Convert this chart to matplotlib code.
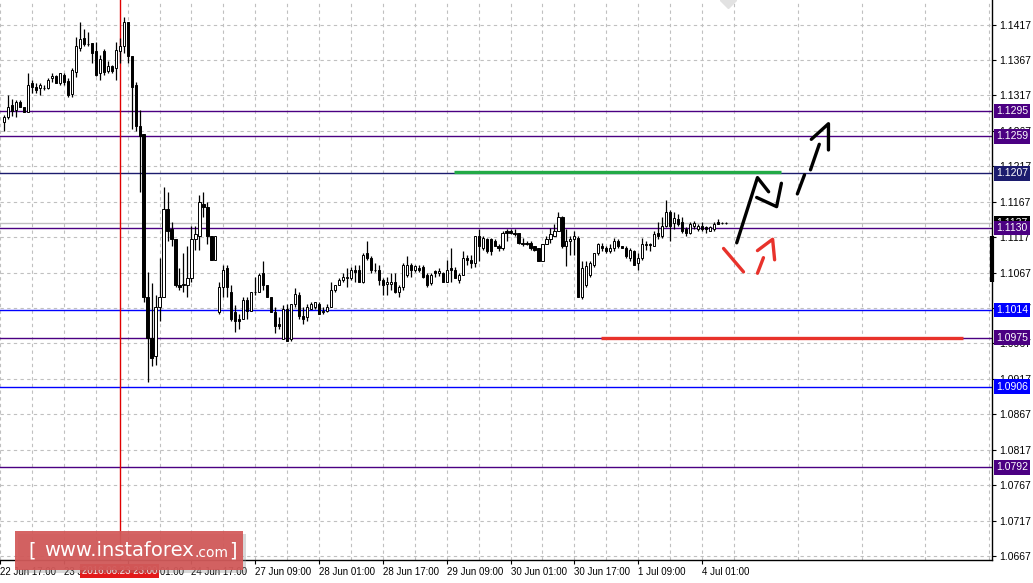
import matplotlib
matplotlib.use('Agg')
import matplotlib.pyplot as plt
import matplotlib.transforms as mtransforms
from matplotlib.patches import Rectangle

plt.rcParams['font.family'] = ['Liberation Sans', 'DejaVu Sans']

# EURUSD H1 candles
opens = [1.1280, 1.1286, 1.1303, 1.1297, 1.1308, 1.1300, 1.1294, 1.1334, 1.1329, 1.1327,
         1.1327, 1.1328, 1.1341, 1.1345, 1.1335, 1.1346, 1.1338, 1.1319, 1.1350, 1.1384,
         1.1398, 1.1390, 1.1391, 1.1380, 1.1348, 1.1380, 1.1352, 1.1358, 1.1355, 1.1379,
         1.1386, 1.1420, 1.1373, 1.1332, 1.1274, 1.1262, 1.1033, 1.0975, 1.0949, 1.1019,
         1.1033, 1.1156, 1.1128, 1.1115, 1.1050, 1.1050, 1.1050, 1.1060, 1.1115, 1.1119,
         1.1164, 1.1160, 1.1118, 1.1085, 1.1011, 1.1047, 1.1073, 1.1039, 1.1011, 1.1001,
         1.1002, 1.1028, 1.1013, 1.1039, 1.1040, 1.1066, 1.1049, 1.1033, 1.1012, 1.0994,
         1.0973, 1.1015, 1.0973, 1.1023, 1.1036, 1.1005, 1.1004, 1.1016, 1.1019, 1.1022,
         1.1011, 1.1013, 1.1019, 1.1043, 1.1050, 1.1056, 1.1060, 1.1060, 1.1071, 1.1070,
         1.1053, 1.1094, 1.1088, 1.1071, 1.1071, 1.1057, 1.1051, 1.1051, 1.1053, 1.1039,
         1.1046, 1.1063, 1.1078, 1.1071, 1.1074, 1.1075, 1.1064, 1.1052, 1.1069, 1.1066,
         1.1067, 1.1054, 1.1073, 1.1071, 1.1057, 1.1064, 1.1088, 1.1085, 1.1081, 1.1118,
         1.1102, 1.1115, 1.1114, 1.1111, 1.1105, 1.1101, 1.1126, 1.1125, 1.1123, 1.1123,
         1.1109, 1.1109, 1.1109, 1.1104, 1.1101, 1.1084, 1.1107, 1.1114, 1.1118, 1.1126,
         1.1146, 1.1104, 1.1111, 1.1115, 1.1116, 1.1032, 1.1050, 1.1064, 1.1077, 1.1095,
         1.1105, 1.1101, 1.1097, 1.1101, 1.1112, 1.1104, 1.1102, 1.1087, 1.1098, 1.1081,
         1.1088, 1.1106, 1.1107, 1.1104, 1.1123, 1.1119, 1.1132, 1.1152, 1.1137, 1.1143,
         1.1138, 1.1128, 1.1123, 1.1132, 1.1128, 1.1132, 1.1131, 1.1126, 1.1128, 1.1138,
         1.1137, 1.1137]
highs = [1.1290, 1.1318, 1.1312, 1.1311, 1.1311, 1.1301, 1.1348, 1.1339, 1.1335, 1.1335,
         1.1332, 1.1341, 1.1349, 1.1346, 1.1348, 1.1348, 1.1341, 1.1355, 1.1400, 1.1420,
         1.1410, 1.1407, 1.1391, 1.1393, 1.1374, 1.1383, 1.1365, 1.1360, 1.1393, 1.1398,
         1.1427, 1.1420, 1.1373, 1.1336, 1.1297, 1.1262, 1.1068, 1.1052, 1.1035, 1.1088,
         1.1188, 1.1180, 1.1139, 1.1115, 1.1074, 1.1095, 1.1105, 1.1133, 1.1133, 1.1176,
         1.1180, 1.1167, 1.1118, 1.1118, 1.1053, 1.1078, 1.1078, 1.1050, 1.1021, 1.1008,
         1.1032, 1.1033, 1.1039, 1.1061, 1.1067, 1.1084, 1.1049, 1.1033, 1.1019, 1.1004,
         1.1021, 1.1022, 1.1023, 1.1045, 1.1039, 1.1019, 1.1022, 1.1026, 1.1026, 1.1026,
         1.1018, 1.1022, 1.1053, 1.1050, 1.1060, 1.1067, 1.1074, 1.1075, 1.1078, 1.1078,
         1.1094, 1.1112, 1.1090, 1.1081, 1.1078, 1.1060, 1.1061, 1.1067, 1.1067, 1.1049,
         1.1081, 1.1090, 1.1081, 1.1078, 1.1077, 1.1077, 1.1067, 1.1066, 1.1071, 1.1073,
         1.1068, 1.1085, 1.1102, 1.1075, 1.1067, 1.1097, 1.1092, 1.1092, 1.1118, 1.1129,
         1.1118, 1.1116, 1.1116, 1.1114, 1.1107, 1.1125, 1.1128, 1.1128, 1.1128, 1.1123,
         1.1116, 1.1111, 1.1111, 1.1105, 1.1102, 1.1107, 1.1118, 1.1130, 1.1135, 1.1152,
         1.1147, 1.1128, 1.1118, 1.1125, 1.1118, 1.1083, 1.1083, 1.1083, 1.1095, 1.1109,
         1.1109, 1.1104, 1.1107, 1.1116, 1.1114, 1.1105, 1.1104, 1.1101, 1.1099, 1.1095,
         1.1116, 1.1111, 1.1109, 1.1125, 1.1138, 1.1145, 1.1169, 1.1155, 1.1152, 1.1149,
         1.1145, 1.1131, 1.1138, 1.1140, 1.1135, 1.1138, 1.1132, 1.1132, 1.1138, 1.1142,
         1.1138, 1.1138]
lows = [1.1267, 1.1284, 1.1288, 1.1287, 1.1300, 1.1293, 1.1294, 1.1321, 1.1321, 1.1318,
        1.1324, 1.1326, 1.1336, 1.1335, 1.1332, 1.1332, 1.1315, 1.1315, 1.1343, 1.1380,
        1.1386, 1.1386, 1.1362, 1.1345, 1.1339, 1.1346, 1.1349, 1.1349, 1.1339, 1.1363,
        1.1377, 1.1363, 1.1269, 1.1267, 1.1180, 1.1025, 1.0912, 1.0935, 1.0936, 1.0999,
        1.1032, 1.1112, 1.1104, 1.1047, 1.1042, 1.1039, 1.1033, 1.1054, 1.1099, 1.1099,
        1.1146, 1.1107, 1.1085, 1.1085, 1.1008, 1.1033, 1.1033, 1.0998, 1.0983, 1.0988,
        1.1001, 1.1002, 1.1013, 1.1036, 1.1040, 1.1043, 1.1032, 1.1011, 1.0982, 1.0987,
        1.0973, 1.0970, 1.0971, 1.1019, 1.1002, 1.0994, 1.0998, 1.1015, 1.1015, 1.1008,
        1.1009, 1.1012, 1.1018, 1.1040, 1.1049, 1.1054, 1.1047, 1.1057, 1.1053, 1.1053,
        1.1052, 1.1085, 1.1067, 1.1068, 1.1050, 1.1036, 1.1035, 1.1043, 1.1038, 1.1033,
        1.1043, 1.1061, 1.1061, 1.1068, 1.1068, 1.1060, 1.1047, 1.1049, 1.1061, 1.1062,
        1.1053, 1.1053, 1.1053, 1.1059, 1.1052, 1.1063, 1.1078, 1.1074, 1.1075, 1.1083,
        1.1099, 1.1095, 1.1092, 1.1104, 1.1098, 1.1099, 1.1111, 1.1121, 1.1118, 1.1107,
        1.1105, 1.1106, 1.1099, 1.1098, 1.1084, 1.1083, 1.1107, 1.1109, 1.1118, 1.1125,
        1.1102, 1.1076, 1.1092, 1.1092, 1.1032, 1.1030, 1.1047, 1.1061, 1.1075, 1.1092,
        1.1097, 1.1095, 1.1095, 1.1098, 1.1102, 1.1101, 1.1088, 1.1084, 1.1077, 1.1070,
        1.1085, 1.1099, 1.1098, 1.1104, 1.1115, 1.1116, 1.1131, 1.1111, 1.1129, 1.1133,
        1.1123, 1.1118, 1.1121, 1.1129, 1.1125, 1.1125, 1.1123, 1.1125, 1.1126, 1.1135,
        1.1136, 1.1136]
closes = [1.1286, 1.1301, 1.1295, 1.1307, 1.1301, 1.1294, 1.1332, 1.1329, 1.1324, 1.1331,
          1.1328, 1.1339, 1.1345, 1.1335, 1.1348, 1.1336, 1.1317, 1.1353, 1.1386, 1.1397,
          1.1389, 1.1390, 1.1377, 1.1346, 1.1369, 1.1350, 1.1358, 1.1352, 1.1381, 1.1386,
          1.1421, 1.1373, 1.1329, 1.1274, 1.1260, 1.1033, 1.0974, 1.0947, 1.1019, 1.1033,
          1.1156, 1.1125, 1.1115, 1.1050, 1.1047, 1.1051, 1.1059, 1.1115, 1.1122, 1.1166,
          1.1160, 1.1119, 1.1085, 1.1118, 1.1046, 1.1071, 1.1047, 1.1002, 1.0998, 1.0998,
          1.1028, 1.1013, 1.1039, 1.1040, 1.1064, 1.1049, 1.1033, 1.1012, 1.0991, 1.0991,
          1.1015, 1.0971, 1.1022, 1.1037, 1.1005, 1.1001, 1.1018, 1.1023, 1.1025, 1.1009,
          1.1013, 1.1019, 1.1043, 1.1050, 1.1057, 1.1061, 1.1061, 1.1071, 1.1068, 1.1053,
          1.1092, 1.1088, 1.1071, 1.1070, 1.1057, 1.1050, 1.1053, 1.1053, 1.1039, 1.1047,
          1.1077, 1.1077, 1.1071, 1.1076, 1.1071, 1.1061, 1.1050, 1.1063, 1.1066, 1.1069,
          1.1054, 1.1071, 1.1070, 1.1060, 1.1064, 1.1088, 1.1085, 1.1080, 1.1118, 1.1104,
          1.1116, 1.1097, 1.1097, 1.1105, 1.1101, 1.1123, 1.1123, 1.1123, 1.1122, 1.1109,
          1.1108, 1.1108, 1.1102, 1.1099, 1.1084, 1.1107, 1.1115, 1.1121, 1.1126, 1.1145,
          1.1104, 1.1111, 1.1115, 1.1118, 1.1033, 1.1073, 1.1076, 1.1081, 1.1094, 1.1107,
          1.1101, 1.1098, 1.1102, 1.1111, 1.1104, 1.1102, 1.1090, 1.1099, 1.1078, 1.1088,
          1.1107, 1.1107, 1.1106, 1.1122, 1.1118, 1.1132, 1.1152, 1.1132, 1.1144, 1.1135,
          1.1125, 1.1123, 1.1135, 1.1137, 1.1132, 1.1129, 1.1128, 1.1131, 1.1135, 1.1136,
          1.1137, 1.1137]

tick_bars = [-1, 15, 31, 47, 63, 79, 95, 111, 127, 143, 159, 175]
tick_texts = ['22 Jun 17:00', '23 Jun 09:00', '24 Jun 01:00', '24 Jun 17:00', '27 Jun 09:00',
              '28 Jun 01:00', '28 Jun 17:00', '29 Jun 09:00', '30 Jun 01:00', '30 Jun 17:00',
              '1 Jul 09:00', '4 Jul 01:00']
grid_bars = [7, 23, 39, 55, 71, 87, 103, 119, 135, 151, 167, 183, 199, 215, 231, 247]
price_ticks = [1.0667, 1.0717, 1.0767, 1.0817, 1.0867, 1.0917, 1.0967, 1.1017,
               1.1067, 1.1117, 1.1167, 1.1217, 1.1267, 1.1317, 1.1367, 1.1417]

levels = [1.1295, 1.1259, 1.1207, 1.1130, 1.1014, 1.0975, 1.0906, 1.0792]
level_colors = ['#4b0082', '#4b0082', '#1c1c6e', '#4b0082', '#0000ff', '#4b0082', '#0000ff', '#4b0082']
last_price = 1.1137
marked_bar = 29
marked_time = '2016.06.23 23:00'

green_level = (112.9, 194.9, 1.1209)
red_level = (149.7, 240.4, 1.0975)

black_strokes = [
    [(183.7, 1.1109), (188.9, 1.1201), (191.7, 1.1181)],
    [(188.7, 1.1173), (193.7, 1.1160), (194.9, 1.1193)],
    [(198.9, 1.1178), (200.7, 1.1205)],
    [(202.2, 1.1212), (204.4, 1.1248)],
    [(202.4, 1.1255), (206.7, 1.1277), (206.7, 1.1240)],
]
red_strokes = [
    [(180.4, 1.1101), (185.4, 1.1068)],
    [(188.9, 1.1066), (190.4, 1.1088)],
    [(188.9, 1.1098), (192.7, 1.1114), (193.2, 1.1085)],
]

W, H = 1033, 583
fig = plt.figure(figsize=(W / 100, H / 100), dpi=100)
ax = fig.add_axes([0, 23 / H, 992 / W, 560 / H])
ax.set_xlim(-0.33, 247.7)
ax.set_ylim(1.06614, 1.14516)

# grid
ax.set_xticks(tick_bars)
ax.set_xticklabels(tick_texts, ha='left')
ax.set_xticks(grid_bars, minor=True)
ax.set_yticks(price_ticks)
ax.set_yticklabels(['%.4f' % p for p in price_ticks])
ax.grid(True, which='both', color='#c0c0c0', linestyle=(0, (3, 3)), linewidth=0.8, zorder=0)
ax.set_axisbelow(True)

ax.yaxis.tick_right()
ax.tick_params(axis='both', which='major', direction='out', length=3, width=0.8,
               colors='black', pad=2)
ax.tick_params(axis='y', labelsize=7.5)
ax.tick_params(axis='x', labelsize=7)
ax.tick_params(axis='x', which='minor', length=0)
for s in ['top', 'left']:
    ax.spines[s].set_visible(False)
for s in ['right', 'bottom']:
    ax.spines[s].set_color('black')
    ax.spines[s].set_linewidth(1.0)

# levels
ax.axhline(last_price, color='#c0c0c0', lw=1.0, zorder=1)
for lv, c in zip(levels, level_colors):
    ax.axhline(lv, color=c, lw=1.0, zorder=1)
ax.axvline(marked_bar, color='#e00000', lw=1.0, zorder=1)

# candles
xs = range(len(opens))
for i in xs:
    o, h, l, c = opens[i], highs[i], lows[i], closes[i]
    ax.vlines(i, l, h, color='black', lw=0.9, zorder=3)
    up = c >= o
    ax.bar(i, abs(c - o), bottom=min(o, c), width=0.55,
           color='white' if up else 'black', edgecolor='black', linewidth=0.7, zorder=4)

# drawn support / resistance
ax.plot([green_level[0], green_level[1]], [green_level[2]] * 2, color='#22aa46', lw=2.4,
        solid_capstyle='butt', zorder=5)
ax.plot([red_level[0], red_level[1]], [red_level[2]] * 2, color='#e8322b', lw=2.4,
        solid_capstyle='butt', zorder=5)
for st in black_strokes:
    ax.plot([p[0] for p in st], [p[1] for p in st], color='black', lw=2.4,
            solid_capstyle='round', zorder=6)
for st in red_strokes:
    ax.plot([p[0] for p in st], [p[1] for p in st], color='#e8322b', lw=2.4,
            solid_capstyle='round', zorder=6)

ax.plot(len(opens) - 0.5, ax.get_ylim()[1], marker='D', ms=8, color='#e2e2e2',
        mec='#e2e2e2', zorder=2)

# right side price labels
tr = mtransforms.blended_transform_factory(ax.transAxes, ax.transData)
ax.plot([1, 1], [1.1054, 1.1118], transform=tr, color='black', lw=3,
        solid_capstyle='butt', clip_on=False, zorder=7)
lbl = dict(transform=tr, ha='left', va='center', color='white', fontsize=7.5, clip_on=False)
ax.text(1.004, last_price, '%.4f' % last_price, zorder=8,
        bbox=dict(boxstyle='square,pad=0.22', fc='black', ec='none'), **lbl)
for lv, c in zip(levels, level_colors):
    ax.text(1.004, lv, '%.4f' % lv, zorder=9,
            bbox=dict(boxstyle='square,pad=0.22', fc=c, ec='none'), **lbl)

# time label of the marked bar
trx = mtransforms.blended_transform_factory(ax.transData, ax.transAxes)
ax.text(marked_bar, -0.019, marked_time, transform=trx, ha='center', va='center',
        color='white', fontsize=7, clip_on=False, zorder=10,
        bbox=dict(boxstyle='square,pad=0.2', fc='#e31a1a', ec='none'))

# watermark
shadow = Rectangle((18 / W, 1 - 573 / H), 228 / W, 39 / H, transform=fig.transFigure,
                   fc='#909090', ec='none', alpha=0.35)
box = Rectangle((15 / W, 1 - 570 / H), 228 / W, 39 / H, transform=fig.transFigure,
                fc='#d25858', ec='none', alpha=0.93)
fig.patches.extend([shadow, box])
wm = dict(color='white', va='center', family=['DejaVu Sans'])
fig.text(28 / W, 1 - 551 / H, '[', fontsize=14, **wm)
fig.text(44 / W, 1 - 551 / H, 'www.instaforex', fontsize=14, **wm)
fig.text(194 / W, 1 - 553 / H, '.com', fontsize=10, **wm)
fig.text(229 / W, 1 - 551 / H, ']', fontsize=14, **wm)

fig.savefig('out.png', dpi=100)
